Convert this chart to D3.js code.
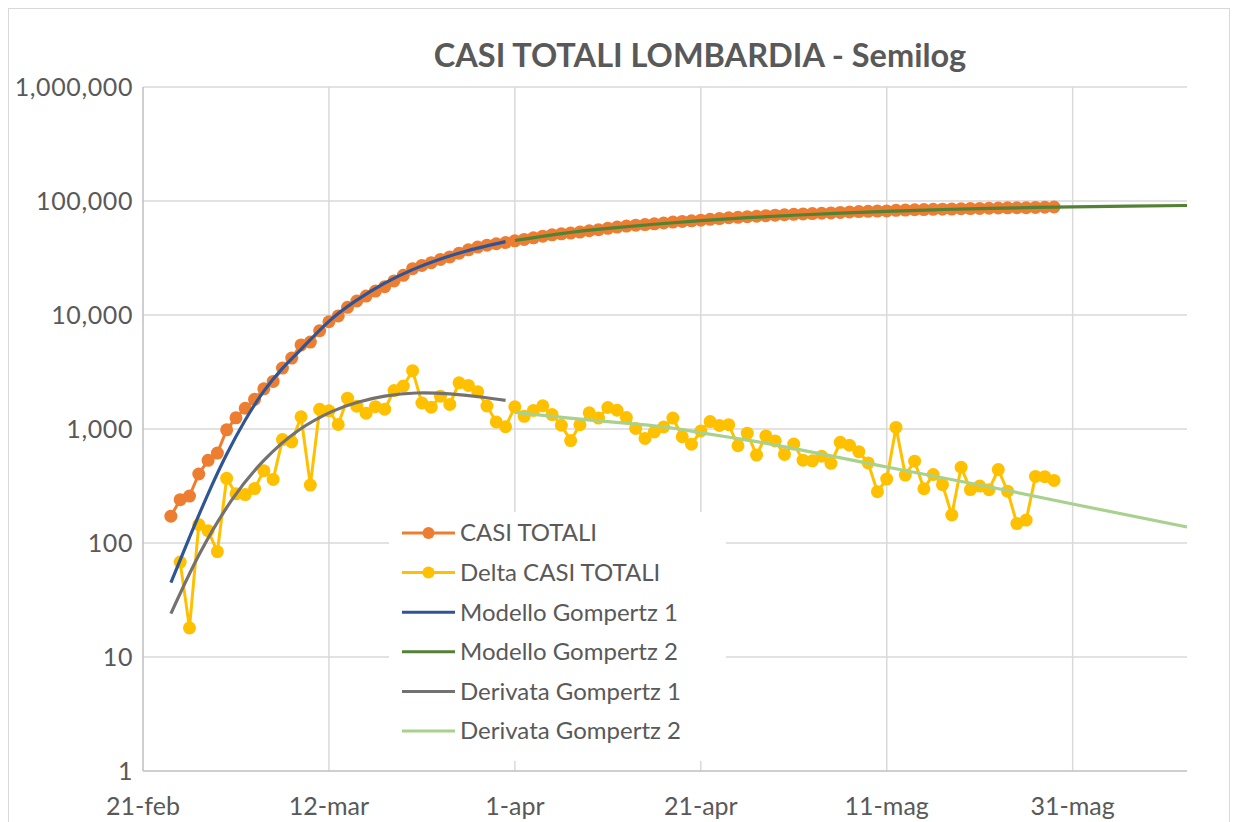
<!DOCTYPE html>
<html>
<head>
<meta charset="utf-8">
<script src="https://cdn.jsdelivr.net/npm/d3@7"></script>
<style>
body{margin:0;background:#fff;}
text{font-family:Lato,"Open Sans",sans-serif;fill:#595959;}
</style>
</head>
<body>
<div id="chart"></div>
<script>
// x = days counted from 21-feb (2020)
var startTotali = 3  // 24-feb
var casiTotali = [172,240,258,403,531,615,
	984,1254,1520,1820,2251,2612,3420,4189,5469,5791,7280,8725,9820,11685,13272,14649,16220,17713,19884,22264,25515,27206,28761,30703,32346,34889,37298,39415,41007,42161,43208,
	44773,46065,47520,49118,50455,51534,52325,53414,54802,56048,57592,59052,60314,61326,62153,63094,64135,65381,66236,66971,67931,69092,70165,71256,71969,72889,73479,74348,75134,75732,
	76469,77002,77528,78105,78605,79369,80089,80721,81225,81507,81871,82904,83298,83820,84119,84518,84843,85019,85481,85775,86091,86384,86825,87110,87258,87417,87801,88183,88537]

var startDelta = 4  // 25-feb
var deltaCasi = [68,18,145,128,84,
	369,270,266,300,431,361,808,769,1280,322,1489,1445,1095,1865,1587,1377,1571,1493,2171,2380,3251,1691,1555,1942,1643,2543,2409,2117,1592,1154,1047,
	1565,1292,1455,1598,1337,1079,791,1089,1388,1246,1544,1460,1262,1012,827,941,1041,1246,855,735,960,1161,1073,1091,713,920,590,869,786,598,
	737,533,526,577,500,764,720,632,504,282,364,1033,394,522,299,399,325,176,462,294,316,293,441,285,148,159,384,382,354]

// model curves: [day, value]
var gompertz1 = [[3,45],[5,112],[7,270],[9,600],[11,1200],[13,2150],[15,3400],[17,5000],[20,8800],[23,13500],[26,19000],[29,25000],[32,31000],[35,36800],[39,44000]]
var gompertz2 = [[40,45000],[45,51800],[50,57500],[55,62500],[60,67300],[65,71400],[70,75000],[75,78200],[80,81200],[85,83700],[90,85800],[95,87500],[100,88900],[106,90200],[112.3,91300]]
var derivata1 = [[3,24],[6,78],[9.5,235],[13,530],[16.7,970],[20.3,1420],[23,1710],[26,1940],[29.4,2070],[33,2030],[36.6,1900],[39,1780]]
var derivata2 = [[40,1400],[45.6,1250],[50,1160],[55.9,1047],[59.9,930],[65,800],[70.6,660],[80,464],[90,323],[100,220],[112.3,138]]

var xTickDays = [0,20,40,60,80,100]
var xTickLabels = ["21-feb","12-mar","1-apr","21-apr","11-mag","31-mag"]
var yTicks = [1,10,100,1000,10000,100000,1000000]

var legendNames = ["CASI TOTALI","Delta CASI TOTALI","Modello Gompertz 1","Modello Gompertz 2","Derivata Gompertz 1","Derivata Gompertz 2"]
var colors = ["#ED7D31","#FFC000","#2F5597","#548235","#767171","#A9D18E"]

var W = 1235, H = 822
var svg = d3.select("#chart").append("svg").attr("width",W).attr("height",H)

// chart frame
svg.append("rect").attr("x",8.5).attr("y",8.5).attr("width",1221).attr("height",830)
	.attr("fill","#fff").attr("stroke","#d9d9d9").attr("stroke-width",1)

var x = d3.scaleLinear().domain([0,112.3]).range([143,1187])
var y = d3.scaleLog().domain([1,1000000]).range([771,87])

// gridlines
svg.append("g").selectAll("line").data(yTicks.slice(1)).join("line")
	.attr("x1",x(0)).attr("x2",x(112.3))
	.attr("y1",d=>y(d)).attr("y2",d=>y(d))
	.attr("stroke","#d9d9d9").attr("stroke-width",1.5)
svg.append("g").selectAll("line").data(xTickDays.slice(1)).join("line")
	.attr("x1",d=>x(d)).attr("x2",d=>x(d))
	.attr("y1",y(1)).attr("y2",y(1000000))
	.attr("stroke","#d9d9d9").attr("stroke-width",1.5)

// axes lines
svg.append("line").attr("x1",x(0)).attr("x2",x(0)).attr("y1",y(1)).attr("y2",y(1000000))
	.attr("stroke","#bfbfbf").attr("stroke-width",1.5)
svg.append("line").attr("x1",x(0)).attr("x2",x(112.3)).attr("y1",y(1)).attr("y2",y(1))
	.attr("stroke","#bfbfbf").attr("stroke-width",1.5)

// tick labels
var fmt = d3.format(",")
svg.append("g").selectAll("text").data(yTicks).join("text")
	.attr("x",133).attr("y",d=>y(d)).attr("dy","0.35em")
	.attr("text-anchor","end").attr("font-size",25).attr("letter-spacing",0.6)
	.text(d=>fmt(d))
svg.append("g").selectAll("text").data(xTickDays).join("text")
	.attr("x",d=>x(d)).attr("y",806).attr("dy","0.35em")
	.attr("text-anchor","middle").attr("font-size",25)
	.text((d,i)=>xTickLabels[i])

// title
svg.append("text").attr("x",700).attr("y",56).attr("dy","0.35em")
	.attr("text-anchor","middle").attr("font-size",32.5).attr("font-weight","bold")
	.text("CASI TOTALI LOMBARDIA - Semilog")

// legend box (sits over the gridlines)
var leg = svg.append("g")
leg.append("rect").attr("x",389).attr("y",512).attr("width",337).attr("height",249).attr("fill","#fff")
legendNames.forEach(function(name,i){
	var ly = 533 + i*39.6
	leg.append("line").attr("x1",402).attr("x2",455).attr("y1",ly).attr("y2",ly)
		.attr("stroke",colors[i]).attr("stroke-width",3)
	if(i<2) leg.append("circle").attr("cx",428.5).attr("cy",ly).attr("r",6).attr("fill",colors[i])
	leg.append("text").attr("x",460).attr("y",ly).attr("dy","0.35em").attr("font-size",24).text(name)
})

var line = d3.line().x(d=>x(d[0])).y(d=>y(d[1]))
var smooth = d3.line().x(d=>x(d[0])).y(d=>y(d[1])).curve(d3.curveNatural)

var totPts = casiTotali.map((v,i)=>[startTotali+i,v])
var deltaPts = deltaCasi.map((v,i)=>[startDelta+i,v])

// CASI TOTALI
svg.append("path").attr("d",line(totPts)).attr("fill","none").attr("stroke",colors[0]).attr("stroke-width",3)
svg.append("g").selectAll("circle").data(totPts).join("circle")
	.attr("cx",d=>x(d[0])).attr("cy",d=>y(d[1])).attr("r",6.5).attr("fill",colors[0])

// Delta
svg.append("path").attr("d",line(deltaPts)).attr("fill","none").attr("stroke",colors[1]).attr("stroke-width",3)
svg.append("g").selectAll("circle").data(deltaPts).join("circle")
	.attr("cx",d=>x(d[0])).attr("cy",d=>y(d[1])).attr("r",6.5).attr("fill",colors[1])

// models
var models = [gompertz1,gompertz2,derivata1,derivata2]
models.forEach(function(m,i){
	svg.append("path").attr("d",smooth(m)).attr("fill","none")
		.attr("stroke",colors[i+2]).attr("stroke-width",3.2)
})
</script>
</body>
</html>
